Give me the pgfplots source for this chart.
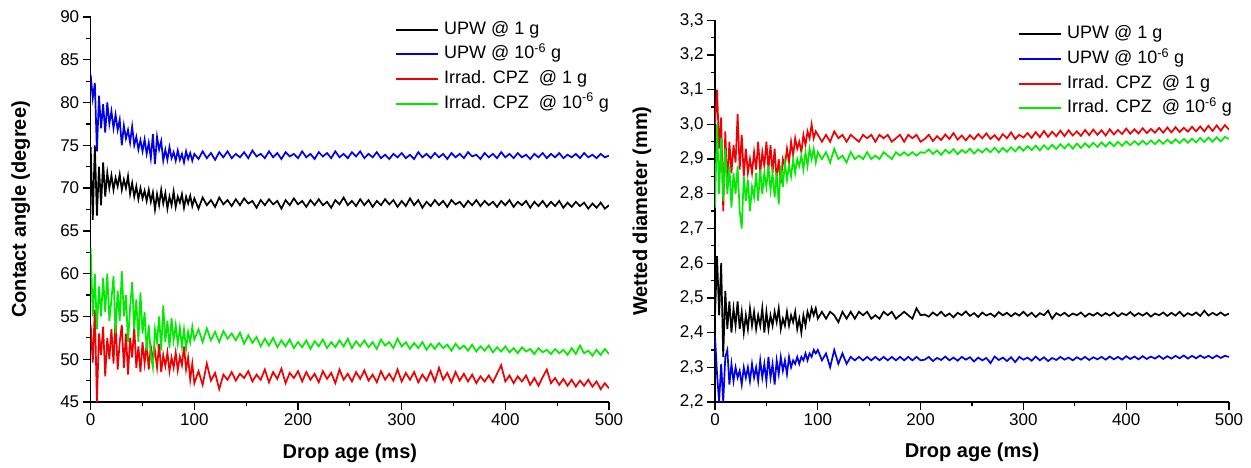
\documentclass[border=0pt]{standalone}
\usepackage{pgfplots}
\usepackage{pgfplotstable}
\pgfplotsset{compat=1.18}
\usepackage{fontspec}
\setmainfont{Liberation Sans}

\definecolor{cgreen}{RGB}{0,235,0}
\definecolor{cblue}{RGB}{0,0,235}
\definecolor{cred}{RGB}{240,0,0}

% contact angle (degree): t, UPW 1g, UPW 1e-6 g, CPZ 1g, CPZ 1e-6 g
\pgfplotstableread{
t k b r g
0 74.8 83.2 54.0 63.0
2 66.3 80.5 49.6 55.0
4 75.0 82.3 55.8 60.0
6 66.8 74.3 45.0 53.5
8 72.5 80.8 53.0 58.5
10 68.0 77.0 50.5 55.0
12 73.0 79.8 53.8 59.5
14 69.0 76.5 48.0 55.5
16 71.8 80.0 52.5 60.0
18 70.0 77.5 50.0 54.5
20 71.5 79.0 53.5 57.0
22 69.8 77.0 49.5 59.7
24 71.2 78.6 54.7 53.0
26 70.2 76.8 48.8 58.0
28 71.6 78.0 52.0 54.5
30 69.8 75.0 54.0 60.3
32 71.0 77.3 49.0 55.0
34 70.0 75.8 53.0 57.5
36 71.4 76.8 48.2 52.0
38 69.3 75.3 52.5 56.0
40 70.6 77.2 50.2 59.0
42 69.0 75.0 53.8 53.5
44 70.2 76.0 49.0 57.0
46 68.7 74.5 51.5 52.0
48 70.0 75.6 48.5 57.8
50 68.8 74.3 52.0 53.0
52 69.7 75.7 49.5 55.5
54 68.5 74.0 51.8 51.0
56 69.8 75.3 48.8 54.0
58 68.4 73.5 51.5 50.5
60 69.5 76.3 50.0 49.0
62 67.5 72.8 51.0 53.5
64 69.3 76.0 49.0 52.0
66 68.0 74.5 51.8 55.0
68 69.8 75.5 48.5 51.0
70 68.2 73.2 50.5 56.3
72 69.4 74.5 49.2 52.0
74 67.6 73.3 50.8 54.5
76 69.0 74.8 48.6 51.3
78 68.0 73.5 50.2 54.8
80 69.6 74.2 49.0 52.2
82 67.8 73.2 50.8 54.0
84 69.0 74.4 48.7 51.8
86 68.3 73.3 50.3 53.7
88 69.3 74.0 49.3 51.5
90 67.7 73.0 51.5 53.5
92 69.0 74.3 48.8 51.2
94 68.2 73.4 50.2 53.2
96 69.1 74.1 47.6 52.0
98 67.9 73.2 49.5 53.8
100 68.8 74.0 47.2 52.3
104 67.6 73.4 48.6 53.5
108 68.9 74.3 47.0 52.0
112 68.0 73.5 49.5 53.6
116 68.6 74.1 47.5 52.2
120 67.8 73.3 48.4 53.2
124 68.9 74.2 46.5 52.0
128 68.1 73.6 48.2 53.3
132 68.6 74.3 47.6 52.4
136 67.9 73.5 48.5 53.0
140 68.7 74.0 47.5 52.2
144 68.0 73.6 48.3 53.1
148 68.8 74.2 47.8 51.8
152 68.2 73.5 48.6 52.8
156 68.5 74.4 47.4 51.9
160 67.7 73.7 48.2 52.6
164 68.6 74.0 47.6 51.5
168 68.0 73.5 48.8 52.4
172 68.7 74.3 47.3 51.6
176 68.1 73.6 48.5 52.5
180 68.5 74.1 47.7 51.4
184 67.6 73.4 48.9 52.2
188 68.6 74.2 47.2 51.5
192 68.0 73.7 48.4 52.3
196 68.8 74.0 47.8 51.3
200 68.1 73.5 48.6 52.0
204 68.5 74.3 47.4 51.4
208 67.8 73.6 48.5 52.2
212 68.6 74.0 47.6 51.2
216 68.0 73.4 48.3 52.1
220 68.7 74.2 47.3 51.5
224 68.0 73.7 48.6 52.3
228 68.4 74.1 47.7 51.3
232 67.7 73.5 48.4 52.0
236 68.6 74.3 47.2 51.4
240 68.1 73.6 48.8 52.2
244 68.9 74.0 47.6 51.5
248 68.0 73.5 48.3 52.4
252 68.5 74.2 47.4 51.3
256 67.9 73.7 48.5 52.1
260 68.7 74.3 47.7 51.5
264 68.0 73.5 48.7 52.2
268 68.6 74.0 47.5 51.4
272 67.8 73.6 48.2 52.0
276 68.5 74.2 47.3 51.2
280 68.0 73.5 48.6 52.3
284 68.7 73.9 47.6 51.6
288 68.1 73.4 48.3 52.0
292 68.6 74.0 47.5 51.3
296 67.8 73.6 48.8 52.4
300 68.5 74.1 47.4 51.5
304 67.9 73.5 48.4 52.0
308 68.8 73.9 47.6 51.2
312 68.0 73.4 48.5 51.9
316 68.6 74.2 47.3 51.3
320 67.7 73.6 48.2 52.0
324 68.4 74.0 47.5 51.1
328 67.9 73.5 48.6 51.8
332 68.6 74.1 47.4 51.2
336 68.0 73.6 49.0 51.9
340 68.5 74.0 47.6 51.3
344 67.8 73.4 48.4 51.7
348 68.6 74.1 47.3 51.0
352 68.1 73.6 48.5 51.8
356 68.4 74.0 47.5 51.2
360 67.8 73.5 48.3 51.6
364 68.5 74.2 47.4 51.0
368 68.0 73.7 48.2 51.7
372 68.6 73.9 47.2 50.9
376 67.9 73.4 48.0 51.5
380 68.5 74.1 47.4 51.0
384 68.0 73.6 48.1 51.6
388 68.4 74.0 47.3 50.8
392 67.8 73.5 48.3 51.4
396 68.5 74.2 49.3 50.9
400 68.0 73.6 47.4 51.5
404 68.6 74.0 48.1 50.8
408 67.8 73.5 47.2 51.3
412 68.4 74.1 48.0 50.7
416 68.0 73.6 47.4 51.4
420 68.5 73.9 48.1 50.9
424 67.7 73.4 47.0 51.2
428 68.4 74.0 47.8 50.6
432 67.9 73.6 46.9 51.3
436 68.5 74.1 47.9 50.8
440 67.8 73.5 48.8 51.1
444 68.4 74.0 47.2 50.6
448 67.9 73.6 47.8 51.2
452 68.5 74.1 47.0 50.7
456 67.7 73.5 47.7 51.1
460 68.3 73.9 46.9 50.5
464 67.8 73.6 47.6 51.3
468 68.4 74.0 46.8 50.6
472 67.9 73.5 47.5 51.6
476 68.3 74.1 46.9 50.7
480 67.6 73.6 47.6 51.0
484 68.2 73.9 46.8 50.4
488 67.7 73.5 47.4 51.1
492 68.3 74.0 46.5 50.5
496 67.6 73.6 47.2 51.2
500 68.0 73.8 46.6 50.6
}\angletab

% wetted diameter (mm)
\pgfplotstableread{
t k b r g
0 2.45 2.39 3.00 2.76
2 2.62 2.28 3.10 3.00
4 2.45 2.20 2.93 2.80
6 2.60 2.31 3.02 2.96
8 2.33 2.20 2.75 2.78
10 2.52 2.33 2.98 2.93
12 2.41 2.35 2.82 2.80
14 2.49 2.25 2.95 2.88
16 2.40 2.31 2.86 2.76
18 2.47 2.26 2.94 2.86
20 2.42 2.30 2.89 2.80
22 2.49 2.27 3.03 2.88
24 2.41 2.29 2.87 2.75
26 2.46 2.25 2.97 2.70
28 2.40 2.30 2.85 2.85
30 2.45 2.27 2.93 2.78
32 2.41 2.30 2.86 2.84
34 2.47 2.26 2.90 2.75
36 2.42 2.31 2.86 2.82
38 2.46 2.27 2.92 2.79
40 2.41 2.30 2.87 2.86
42 2.45 2.26 2.95 2.78
44 2.42 2.32 2.86 2.87
46 2.47 2.27 2.92 2.80
48 2.40 2.31 2.88 2.86
50 2.46 2.26 2.95 2.82
52 2.41 2.33 2.87 2.88
54 2.45 2.27 2.94 2.81
56 2.42 2.31 2.86 2.86
58 2.46 2.25 2.93 2.79
60 2.43 2.32 2.84 2.86
62 2.47 2.28 2.90 2.77
64 2.41 2.33 2.83 2.88
66 2.44 2.29 2.90 2.82
68 2.42 2.32 2.88 2.89
70 2.46 2.28 2.93 2.84
72 2.42 2.33 2.89 2.88
74 2.45 2.30 2.95 2.85
76 2.43 2.32 2.91 2.90
78 2.46 2.31 2.96 2.86
80 2.41 2.33 2.93 2.90
82 2.44 2.31 2.95 2.88
84 2.40 2.33 2.92 2.91
86 2.45 2.32 2.97 2.87
88 2.42 2.34 2.94 2.92
90 2.46 2.32 2.98 2.88
92 2.44 2.34 2.96 2.93
94 2.47 2.33 3.00 2.90
96 2.45 2.35 2.96 2.93
98 2.47 2.34 2.98 2.89
100 2.44 2.35 2.97 2.92
104 2.46 2.32 2.95 2.90
108 2.44 2.34 2.97 2.92
112 2.46 2.30 2.95 2.89
116 2.45 2.35 2.98 2.93
120 2.43 2.31 2.96 2.90
124 2.46 2.34 2.97 2.91
128 2.44 2.31 2.95 2.89
132 2.46 2.33 2.97 2.92
136 2.44 2.32 2.96 2.90
140 2.46 2.33 2.95 2.91
144 2.45 2.32 2.97 2.90
148 2.46 2.33 2.96 2.92
152 2.44 2.32 2.97 2.90
156 2.45 2.33 2.95 2.91
160 2.44 2.32 2.97 2.90
164 2.46 2.33 2.96 2.92
168 2.45 2.32 2.97 2.91
172 2.46 2.33 2.95 2.90
176 2.44 2.32 2.96 2.92
180 2.45 2.33 2.97 2.91
184 2.46 2.32 2.95 2.92
188 2.45 2.33 2.97 2.91
192 2.44 2.32 2.96 2.92
196 2.47 2.33 2.97 2.91
200 2.45 2.32 2.95 2.92
204 2.452 2.322 2.958 2.918
208 2.446 2.330 2.970 2.928
212 2.458 2.318 2.952 2.915
216 2.449 2.327 2.966 2.925
220 2.460 2.321 2.955 2.912
224 2.447 2.331 2.971 2.927
228 2.455 2.320 2.958 2.917
232 2.444 2.328 2.975 2.929
236 2.457 2.319 2.956 2.914
240 2.450 2.330 2.968 2.926
244 2.461 2.322 2.954 2.918
248 2.448 2.329 2.969 2.930
252 2.456 2.317 2.957 2.916
256 2.445 2.328 2.972 2.928
260 2.458 2.320 2.960 2.919
264 2.449 2.327 2.974 2.931
268 2.455 2.312 2.958 2.920
272 2.446 2.331 2.969 2.933
276 2.459 2.321 2.955 2.919
280 2.450 2.328 2.972 2.932
284 2.457 2.318 2.960 2.921
288 2.447 2.329 2.977 2.934
292 2.456 2.315 2.958 2.922
296 2.449 2.330 2.970 2.936
300 2.460 2.322 2.962 2.924
304 2.448 2.328 2.975 2.937
308 2.457 2.319 2.961 2.926
312 2.445 2.331 2.978 2.939
316 2.456 2.320 2.963 2.925
320 2.450 2.329 2.981 2.940
324 2.463 2.318 2.964 2.928
328 2.440 2.327 2.979 2.941
332 2.456 2.321 2.966 2.929
336 2.449 2.330 2.982 2.943
340 2.457 2.322 2.966 2.931
344 2.447 2.328 2.983 2.944
348 2.455 2.320 2.968 2.930
352 2.450 2.329 2.980 2.945
356 2.458 2.322 2.967 2.932
360 2.446 2.330 2.984 2.946
364 2.455 2.321 2.969 2.934
368 2.449 2.329 2.985 2.947
372 2.457 2.323 2.970 2.935
376 2.448 2.330 2.983 2.948
380 2.456 2.322 2.968 2.936
384 2.449 2.331 2.986 2.949
388 2.458 2.323 2.971 2.937
392 2.447 2.330 2.984 2.950
396 2.456 2.322 2.972 2.938
400 2.450 2.332 2.988 2.951
404 2.459 2.324 2.973 2.940
408 2.448 2.331 2.986 2.952
412 2.456 2.323 2.974 2.941
416 2.449 2.332 2.989 2.953
420 2.457 2.324 2.975 2.942
424 2.446 2.331 2.987 2.954
428 2.455 2.325 2.976 2.943
432 2.450 2.333 2.990 2.955
436 2.458 2.324 2.976 2.944
440 2.448 2.332 2.991 2.956
444 2.457 2.325 2.977 2.945
448 2.449 2.333 2.992 2.957
452 2.460 2.326 2.978 2.946
456 2.447 2.334 2.990 2.958
460 2.456 2.325 2.979 2.947
464 2.450 2.333 2.993 2.959
468 2.458 2.326 2.980 2.948
472 2.448 2.334 2.994 2.961
476 2.463 2.327 2.980 2.949
480 2.449 2.333 2.996 2.962
484 2.457 2.326 2.981 2.950
488 2.450 2.334 2.997 2.963
492 2.458 2.327 2.982 2.951
496 2.449 2.333 2.998 2.964
500 2.455 2.330 2.985 2.958
}\diamtab

\pgfplotsset{
  panel/.style={
    scale only axis,
    anchor=south west,
    axis lines=left,
    axis line style={-, line width=1.3pt},
    tick align=outside,
    major tick length=8pt,
    minor tick length=4.5pt,
    every tick/.style={black, line width=1.3pt},
    xmin=0, xmax=500,
    xtick={0,100,...,500},
    minor x tick num=1,
    /pgf/number format/assume math mode=true,
    tick label style={font=\fontsize{17}{20}\selectfont},
    xlabel={Drop age (ms)},
    every axis plot/.append style={line width=1.7pt},
    legend cell align=left,
    legend image code/.code={\draw[#1, line width=2pt] (0pt,0pt) -- (42pt,0pt);},
    legend style={anchor=north west, draw=none, fill=none,
      font=\fontsize{18}{21}\selectfont, inner sep=0pt,
      row sep=7.7pt, column sep=5pt,
      nodes={inner sep=0pt, text height=13pt, text depth=4pt}},
  },
}

\begin{document}
\begin{tikzpicture}
\useasboundingbox (0,0) rectangle (1251pt,468pt);

\begin{axis}[panel,
  at={(90.7pt,66pt)}, width=518.3pt, height=385pt,
  ymin=45, ymax=90, ytick={45,50,...,90}, minor y tick num=1,
  ylabel={Contact angle (degree)},
  every axis y label/.style={at={(axis description cs:-0.135,0.5)}, rotate=90, anchor=center,
    font=\fontsize{20}{24}\selectfont\bfseries},
  every axis x label/.style={at={(axis description cs:0.5,-0.133)}, anchor=center,
    font=\fontsize{20}{24}\selectfont\bfseries},
  legend style={at={(0.587,0.99)}},
]
\addplot[black] table[x=t, y=k] {\angletab};
\addplot[cblue] table[x=t, y=b] {\angletab};
\addplot[cred] table[x=t, y=r] {\angletab};
\addplot[cgreen] table[x=t, y=g] {\angletab};
\legend{UPW @ 1 g, UPW @ 10\textsuperscript{-6} g, Irrad. CPZ\ \ @ 1 g, Irrad. CPZ\ \ @ 10\textsuperscript{-6} g}
\end{axis}

\begin{axis}[panel,
  at={(715pt,66pt)}, width=514pt, height=381.7pt,
  ymin=2.2, ymax=3.3, ytick={2.2,2.3,...,3.3}, minor y tick num=1,
  yticklabel style={/pgf/number format/.cd, use comma, fixed, fixed zerofill, precision=1},
  ylabel={Wetted diameter (mm)},
  every axis y label/.style={at={(axis description cs:-0.142,0.5)}, rotate=90, anchor=center,
    font=\fontsize{20}{24}\selectfont\bfseries},
  every axis x label/.style={at={(axis description cs:0.5,-0.133)}, anchor=center,
    font=\fontsize{20}{24}\selectfont\bfseries},
  legend style={at={(0.5895,0.986)}},
]
\addplot[black] table[x=t, y=k] {\diamtab};
\addplot[cblue] table[x=t, y=b] {\diamtab};
\addplot[cred] table[x=t, y=r] {\diamtab};
\addplot[cgreen] table[x=t, y=g] {\diamtab};
\legend{UPW @ 1 g, UPW @ 10\textsuperscript{-6} g, Irrad. CPZ\ \ @ 1 g, Irrad. CPZ\ \ @ 10\textsuperscript{-6} g}
\end{axis}
\end{tikzpicture}
\end{document}
